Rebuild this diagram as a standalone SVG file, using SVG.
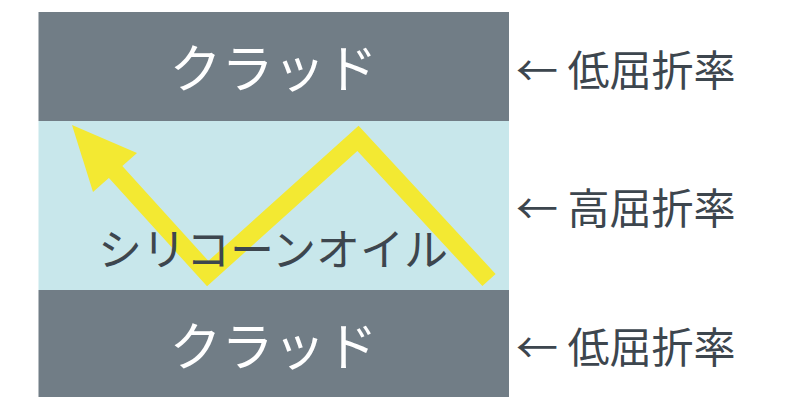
<svg xmlns="http://www.w3.org/2000/svg" width="791" height="397" viewBox="0 0 791 397">
<style>
.jp{font-family:"Noto Sans CJK JP","Noto Sans CJK SC",sans-serif;}
.clad{fill:#717d86;}
.core{fill:#c8e7eb;}
.cladtxt{fill:#ffffff;font-size:52px;text-anchor:middle;}
.coretxt{fill:#3d464e;font-size:44px;text-anchor:middle;}
.lbl{fill:#3d464e;font-size:42px;}
.ray{fill:none;stroke:#f3e932;stroke-width:18;stroke-linejoin:miter;stroke-linecap:butt;}
</style>
<rect width="791" height="397" fill="#ffffff"/>
<g id="cladding-top">
<rect class="clad" x="38.5" y="12" width="470.5" height="109"/>
<text class="jp cladtxt" x="273.5" y="88">クラッド</text>
</g>
<g id="core">
<rect class="core" x="38.5" y="121" width="470.5" height="169"/>
</g>
<g id="cladding-bottom">
<rect class="clad" x="38.5" y="290" width="470.5" height="107"/>
<text class="jp cladtxt" x="273.5" y="366">クラッド</text>
</g>
<g id="connectors">
<polyline class="ray" points="489,280 358,138.3 207.7,273.6 112,168"/>
<polygon fill="#f3e932" points="72,125 137,153 93,192"/>
</g>
<g id="core-label">
<text class="jp coretxt" x="273" y="266">シリコーンオイル</text>
</g>
<g id="labels">
<text class="jp lbl" x="516" y="86">← 低屈折率</text>
<text class="jp lbl" x="516" y="224">← 高屈折率</text>
<text class="jp lbl" x="516" y="363">← 低屈折率</text>
</g>
</svg>
